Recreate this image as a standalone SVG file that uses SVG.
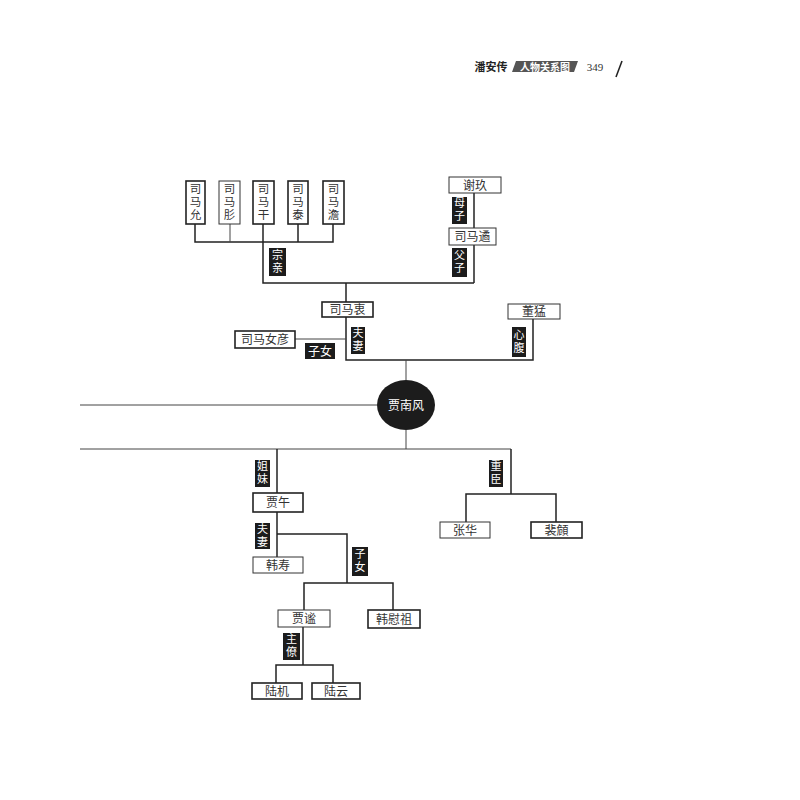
<svg xmlns="http://www.w3.org/2000/svg" width="800" height="800" viewBox="0 0 800 800">
<style>
.bg{fill:#fff}
.box{fill:#fff;stroke:#222;stroke-width:1.6}
.boxt{fill:#fff;stroke:#333;stroke-width:1}
.t{font-family:"Noto Sans CJK SC","Noto Sans",sans-serif;font-size:12px;fill:#333;text-anchor:middle}
.tv{font-family:"Noto Sans CJK SC","Noto Sans",sans-serif;font-size:11.5px;fill:#333;text-anchor:middle;writing-mode:vertical-rl;letter-spacing:1.5px}
.lab{fill:#1c1c1c}
.lt{font-family:"Noto Sans CJK SC","Noto Sans",sans-serif;font-size:12px;fill:#fff;text-anchor:middle}
.ltv{font-family:"Noto Sans CJK SC","Noto Sans",sans-serif;font-size:11px;fill:#fff;text-anchor:middle;writing-mode:vertical-rl;letter-spacing:2px}
.ln{fill:none;stroke:#222;stroke-width:1.5}
.lnt{fill:none;stroke:#444;stroke-width:1}
</style>
<rect class="bg" x="0" y="0" width="800" height="800"/>
<g id="header">
<text x="491" y="71" font-family="'Noto Sans CJK SC',sans-serif" font-size="11" font-weight="bold" fill="#222" text-anchor="middle">潘安传</text>
<polygon points="516,61 578,61 574,72 512,72" fill="#555"/>
<text x="545" y="70.5" font-family="'Noto Sans CJK SC',sans-serif" font-size="10" font-weight="bold" fill="#fff" text-anchor="middle">人物关系图</text>
<text x="595" y="71" font-family="'Liberation Serif',serif" font-size="11" fill="#333" text-anchor="middle">349</text>
<path d="M622,61 L616,77" stroke="#222" stroke-width="1.6" fill="none"/>
</g>
<g id="connectors">
<path class="ln" d="M195,224 V242 H333 V224"/>
<path class="lnt" d="M230,224 V242"/>
<path class="ln" d="M263,224 V242"/>
<path class="ln" d="M298,224 V242"/>
<path class="ln" d="M263,242 V283 H474"/>
<path class="ln" d="M474,193 V228"/>
<path class="ln" d="M474,245 V283"/>
<path class="ln" d="M346,283 V302"/>
<path class="ln" d="M346,317 V360 H533 V318"/>
<path class="lnt" d="M295,339 H346"/>
<path class="lnt" d="M406,360 V380"/>
<path class="lnt" d="M80,405 H377"/>
<path class="lnt" d="M406,430 V449"/>
<path class="lnt" d="M80,449 H511"/>
<path class="ln" d="M277,449 V493"/>
<path class="ln" d="M277,512 V557"/>
<path class="ln" d="M277,534 H347 V583"/>
<path class="ln" d="M304,610 V583 H393 V610"/>
<path class="ln" d="M303,627 V665"/>
<path class="ln" d="M276,683 V665 H333 V683"/>
<path class="ln" d="M511,449 V494"/>
<path class="ln" d="M466,522 V494 H556 V522"/>
</g>
<g id="n-simayun"><rect class="box" x="186" y="181" width="19" height="43"/><text class="tv" x="195.5" y="202.5">司马允</text></g>
<g id="n-simarong"><rect class="boxt" x="219" y="181" width="21" height="43"/><text class="tv" x="229.5" y="202.5">司马肜</text></g>
<g id="n-simagan"><rect class="box" x="253" y="181" width="21" height="43"/><text class="tv" x="263.5" y="202.5">司马干</text></g>
<g id="n-simatai"><rect class="box" x="288" y="181" width="20" height="43"/><text class="tv" x="298" y="202.5">司马泰</text></g>
<g id="n-simadan"><rect class="box" x="323" y="181" width="21" height="43"/><text class="tv" x="333.5" y="202.5">司马澹</text></g>
<g id="l-zongqin"><rect class="lab" x="269" y="248" width="17" height="28"/><text class="ltv" x="277.5" y="262">宗亲</text></g>
<g id="n-xiejiu"><rect class="boxt" x="449" y="177" width="52" height="16"/><text class="t" x="475" y="189.5">谢玖</text></g>
<g id="l-muzi"><rect class="lab" x="452" y="197" width="15" height="27"/><text class="ltv" x="459.5" y="210.5">母子</text></g>
<g id="n-simayu"><rect class="boxt" x="449" y="228" width="47" height="17"/><text class="t" x="472.5" y="241">司马遹</text></g>
<g id="l-fuzi"><rect class="lab" x="452" y="248" width="15" height="29"/><text class="ltv" x="459.5" y="262.5">父子</text></g>
<g id="n-simazhong"><rect class="box" x="322" y="302" width="51" height="15"/><text class="t" x="347.5" y="314">司马衷</text></g>
<g id="l-fuqi1"><rect class="lab" x="351" y="327" width="14" height="27"/><text class="ltv" x="358" y="340.5">夫妻</text></g>
<g id="n-simanvyan"><rect class="box" x="235" y="331" width="60" height="17"/><text class="t" x="265" y="344">司马女彦</text></g>
<g id="l-zinv1"><rect class="lab" x="305" y="343" width="30" height="16"/><text class="lt" x="320" y="355.5">子女</text></g>
<g id="n-dongmeng"><rect class="boxt" x="508" y="304" width="52" height="15"/><text class="t" x="534" y="316">董猛</text></g>
<g id="l-xinfu"><rect class="lab" x="512" y="327" width="14" height="30"/><text class="ltv" x="519" y="342">心腹</text></g>
<g id="n-jianfeng"><ellipse cx="406" cy="405" rx="29" ry="25" fill="#1c1c1c"/><text class="lt" x="406" y="409.5" font-size="13">贾南风</text></g>
<g id="l-jiemei"><rect class="lab" x="255" y="460" width="15" height="27"/><text class="ltv" x="262.5" y="473.5">姐妹</text></g>
<g id="n-jiawu"><rect class="box" x="253" y="493" width="50" height="19"/><text class="t" x="278" y="507">贾午</text></g>
<g id="l-fuqi2"><rect class="lab" x="255" y="523" width="15" height="26"/><text class="ltv" x="262.5" y="536">夫妻</text></g>
<g id="n-hanshou"><rect class="boxt" x="253" y="557" width="50" height="16"/><text class="t" x="278" y="569.5">韩寿</text></g>
<g id="l-zinv2"><rect class="lab" x="352" y="547" width="16" height="29"/><text class="ltv" x="360" y="561.5">子女</text></g>
<g id="n-jiami"><rect class="boxt" x="278" y="610" width="52" height="17"/><text class="t" x="304" y="623">贾谧</text></g>
<g id="n-hanweizu"><rect class="box" x="368" y="610" width="52" height="18"/><text class="t" x="394" y="623.5">韩慰祖</text></g>
<g id="l-zhuliao"><rect class="lab" x="283" y="633" width="17" height="27"/><text class="ltv" x="291.5" y="646.5">主僚</text></g>
<g id="n-luji"><rect class="box" x="252" y="683" width="50" height="16"/><text class="t" x="277" y="695.5">陆机</text></g>
<g id="n-luyun"><rect class="box" x="312" y="683" width="48" height="16"/><text class="t" x="336" y="695.5">陆云</text></g>
<g id="l-zhongchen"><rect class="lab" x="489" y="460" width="14" height="27"/><text class="ltv" x="496" y="473.5">重臣</text></g>
<g id="n-zhanghua"><rect class="boxt" x="440" y="522" width="50" height="16"/><text class="t" x="465" y="534.5">张华</text></g>
<g id="n-peiwei"><rect class="box" x="531" y="522" width="51" height="16"/><text class="t" x="556.5" y="534.5">裴頠</text></g>
</svg>
